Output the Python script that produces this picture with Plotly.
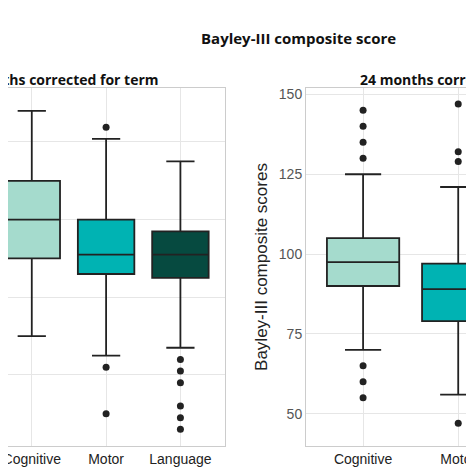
import plotly.graph_objects as go
from plotly.subplots import make_subplots

# ── DATA ────────────────────────────────────────────────────────
domains = ['Cognitive', 'Motor', 'Language']
colors = ['#a5dbcd', '#00b3b3', '#064a40']

# left panel (first assessment, corrected for term)
left_q1 = [90, 86, 85]
left_med = [100, 91, 91]
left_q3 = [110, 100, 97]
left_lo = [70, 65, 67]
left_hi = [128, 120.8, 115]
left_out = [[], [123.8, 62, 50], [64, 61, 58, 52, 49, 46]]

# right panel (24 months corrected for term)
right_q1 = [90, 79]
right_med = [97.5, 89]
right_q3 = [105, 97]
right_lo = [70, 56]
right_hi = [125, 121]
right_out = [[145, 140, 135, 130, 65, 60, 55], [147, 132, 129, 47]]

W, H = 474, 474
fig = make_subplots(rows=1, cols=2)

def add_panel(col, q1, med, q3, lo, hi, out):
    for i in range(len(q1)):
        fig.add_trace(go.Box(
            x=[domains[i]], q1=[q1[i]], median=[med[i]], q3=[q3[i]],
            lowerfence=[lo[i]], upperfence=[hi[i]],
            fillcolor=colors[i], line=dict(color='#222222', width=1.8),
            width=0.76, boxpoints=False, showlegend=False, hoverinfo='skip'),
            row=1, col=col)
        if out[i]:
            fig.add_trace(go.Scatter(
                x=[domains[i]] * len(out[i]), y=out[i], mode='markers',
                marker=dict(color='#222222', size=7), showlegend=False),
                row=1, col=col)

add_panel(1, left_q1, left_med, left_q3, left_lo, left_hi, left_out)
add_panel(2, right_q1, right_med, right_q3, right_lo, right_hi, right_out)

axis_style = dict(showgrid=True, gridcolor='#e6e6e6', showline=True, linecolor='#cccccc',
                  mirror=True, ticks='', zeroline=False)
fig.update_xaxes(**axis_style, categoryorder='array', categoryarray=domains,
                 tickfont=dict(family='Liberation Sans', size=14, color='#222222'))
fig.update_yaxes(**axis_style, tickfont=dict(family='Liberation Sans', size=14, color='#555555'))

fig.update_xaxes(domain=[0, 217 / W], range=[-0.32, 2.6], autorange=False, row=1, col=1)
fig.update_yaxes(range=[41.7, 133.9], dtick=20, showticklabels=False, autorange=False, row=1, col=1)
fig.update_xaxes(domain=[298 / W, 1], range=[-0.6, 1.25], autorange=False, row=1, col=2)
fig.update_yaxes(range=[39.9, 152], tickvals=[50, 75, 100, 125, 150], autorange=False,
                 automargin=False,
                 title=dict(text='Bayley-III composite scores', standoff=6,
                            font=dict(family='Liberation Sans', size=17, color='#222222')),
                 row=1, col=2)

fig.update_layout(
    width=W, height=H, plot_bgcolor='white', paper_bgcolor='white',
    margin=dict(l=0, r=0, t=80, b=36, autoexpand=False),
)

fig.add_annotation(text='<b>Bayley-III composite score</b>', x=290 / W, y=1.173,
                   xref='paper', yref='paper', showarrow=False,
                   font=dict(family='Open Sans', size=15, color='#111111'))
fig.add_annotation(text='<b>12 months corrected for term</b>', x=153 / W, y=1.056,
                   xref='paper', yref='paper', xanchor='right', showarrow=False,
                   font=dict(family='Open Sans', size=14, color='#111111'))
fig.add_annotation(text='<b>24 months corrected for term</b>', x=350 / W, y=1.056,
                   xref='paper', yref='paper', xanchor='left', showarrow=False,
                   font=dict(family='Open Sans', size=14, color='#111111'))

fig.write_html('out.html')
